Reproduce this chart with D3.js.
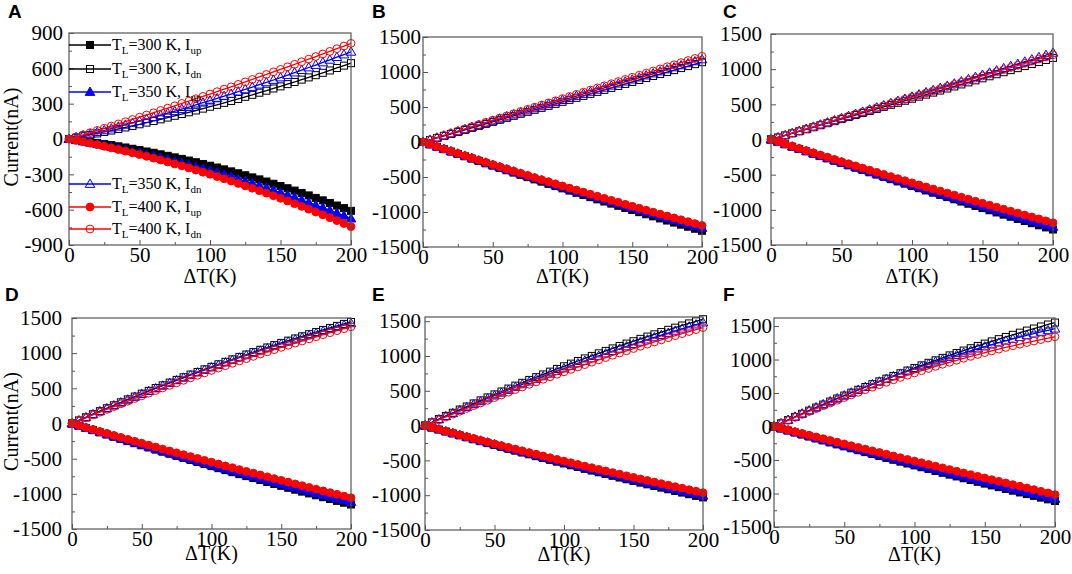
<!DOCTYPE html>
<html><head><meta charset="utf-8">
<script src="https://cdn.jsdelivr.net/npm/d3@7"></script>
<style>body{margin:0;background:#fff}svg{display:block}</style>
</head><body>
<svg id="chart" width="1072" height="574"></svg>
<script>
// ---------- data ----------
const deltaT = [0,5,10,15,20,25,30,35,40,45,50,55,60,65,70,75,80,85,90,95,100,105,110,115,120,125,130,135,140,145,150,155,160,165,170,175,180,185,190,195,200];

const A_300_up = [0,-8,-16,-24,-33,-42,-52,-62,-72,-83,-94,-106,-117,-130,-143,-156,-169,-183,-197,-212,-227,-242,-258,-275,-291,-308,-326,-343,-361,-380,-399,-418,-438,-458,-479,-500,-521,-543,-565,-587,-610];
const A_300_dn = [0,11,23,35,47,60,72,85,98,111,125,139,153,167,182,197,212,227,242,258,274,290,307,323,340,358,375,393,410,429,447,466,484,504,523,542,562,582,603,623,644];
const A_350_up = [0,-10,-21,-32,-43,-55,-67,-79,-92,-105,-118,-132,-146,-160,-175,-190,-205,-221,-237,-253,-270,-287,-304,-322,-340,-359,-378,-397,-416,-436,-456,-476,-497,-518,-540,-562,-584,-606,-629,-652,-676];
const A_350_dn = [0,14,29,43,58,73,89,104,120,136,152,168,185,202,219,236,254,271,289,308,326,345,363,382,402,421,441,461,481,501,522,543,564,585,607,628,650,672,695,717,740];
const A_400_up = [0,-12,-24,-36,-48,-62,-75,-89,-103,-117,-132,-147,-163,-179,-195,-212,-228,-246,-264,-282,-300,-319,-338,-357,-377,-398,-418,-439,-460,-482,-504,-526,-549,-572,-596,-620,-644,-668,-693,-718,-744];
const A_400_dn = [0,18,36,54,73,91,110,128,147,166,185,204,223,243,262,282,302,322,342,362,382,402,423,443,464,485,506,527,548,570,591,613,634,656,678,700,722,744,767,789,812];

const B_300_up = [0,-34,-69,-103,-137,-171,-204,-238,-272,-305,-338,-371,-404,-437,-469,-502,-534,-566,-598,-630,-662,-694,-725,-756,-788,-819,-850,-880,-911,-942,-972,-1002,-1032,-1062,-1092,-1122,-1151,-1181,-1210,-1239,-1268];
const B_300_dn = [0,29,58,87,115,144,173,202,231,259,288,317,345,374,403,431,460,488,517,545,574,602,631,659,688,716,745,773,801,830,858,886,915,943,971,999,1027,1056,1084,1112,1140];
const B_350_up = [0,-33,-67,-100,-133,-166,-198,-231,-264,-296,-328,-360,-392,-424,-455,-487,-518,-549,-580,-611,-642,-673,-703,-733,-764,-794,-824,-853,-883,-913,-942,-971,-1000,-1029,-1058,-1087,-1115,-1144,-1172,-1200,-1228];
const B_350_dn = [0,30,61,91,121,151,181,211,241,271,301,331,361,391,420,450,480,509,539,568,598,627,657,686,716,745,774,804,833,862,891,920,949,978,1007,1036,1065,1094,1123,1151,1180];
const B_400_up = [0,-33,-66,-98,-131,-163,-195,-227,-259,-291,-322,-353,-384,-415,-446,-477,-508,-538,-568,-598,-628,-658,-687,-717,-746,-775,-804,-833,-861,-890,-918,-946,-974,-1002,-1030,-1057,-1084,-1111,-1138,-1165,-1192];
const B_400_dn = [0,31,63,94,125,157,188,219,250,281,312,343,374,405,436,467,497,528,559,589,620,651,681,712,742,773,803,833,864,894,924,954,984,1014,1044,1075,1104,1134,1164,1194,1224];

const C_300_up = [0,-34,-68,-102,-135,-169,-202,-236,-269,-302,-335,-368,-401,-434,-466,-499,-531,-564,-596,-628,-660,-692,-724,-756,-787,-819,-850,-882,-913,-944,-975,-1006,-1037,-1068,-1098,-1129,-1159,-1190,-1220,-1250,-1280];
const C_300_dn = [0,29,58,87,116,145,174,203,232,261,290,319,348,377,406,435,464,493,522,551,580,609,638,667,696,725,754,783,812,841,870,899,928,957,986,1015,1044,1073,1102,1131,1160];
const C_350_up = [0,-33,-67,-100,-133,-166,-199,-232,-264,-297,-329,-361,-393,-425,-457,-489,-521,-552,-584,-615,-646,-677,-708,-739,-769,-800,-830,-861,-891,-921,-951,-981,-1011,-1040,-1070,-1099,-1128,-1157,-1186,-1215,-1244];
const C_350_dn = [0,30,60,90,120,150,181,211,241,272,302,332,363,393,424,454,485,516,546,577,608,639,670,701,732,762,794,825,856,887,918,949,980,1012,1043,1074,1106,1137,1169,1200,1232];
const C_400_up = [0,-32,-64,-95,-127,-158,-190,-221,-252,-283,-314,-345,-375,-406,-436,-466,-497,-527,-557,-586,-616,-646,-675,-704,-733,-762,-791,-820,-849,-878,-906,-934,-963,-991,-1019,-1046,-1074,-1102,-1129,-1157,-1184];
const C_400_dn = [0,30,60,90,120,151,181,211,241,271,301,331,361,391,421,452,482,512,542,572,602,632,662,692,722,753,783,813,843,873,903,933,963,993,1023,1054,1084,1114,1144,1174,1204];

const D_300_up = [0,-32,-63,-95,-126,-157,-188,-219,-250,-280,-310,-341,-371,-401,-430,-460,-490,-519,-548,-577,-606,-635,-663,-692,-720,-748,-776,-804,-832,-859,-886,-914,-941,-968,-994,-1021,-1048,-1074,-1100,-1126,-1152];
const D_300_dn = [0,44,88,132,175,217,259,301,343,383,424,464,504,543,582,620,658,696,733,770,806,842,877,912,947,981,1015,1048,1081,1114,1146,1178,1209,1240,1270,1300,1330,1359,1388,1416,1444];
const D_350_up = [0,-31,-62,-93,-123,-153,-184,-214,-244,-273,-303,-332,-362,-391,-420,-448,-477,-506,-534,-562,-590,-618,-645,-673,-700,-728,-755,-781,-808,-835,-861,-887,-913,-939,-965,-990,-1016,-1041,-1066,-1091,-1116];
const D_350_dn = [0,44,87,130,173,215,256,298,339,379,419,459,498,537,575,613,650,687,724,760,796,831,866,901,935,969,1002,1035,1067,1099,1131,1162,1193,1223,1253,1283,1312,1341,1369,1397,1424];
const D_400_up = [0,-29,-57,-85,-114,-142,-170,-198,-225,-253,-280,-308,-335,-363,-390,-417,-444,-470,-497,-524,-550,-576,-603,-629,-655,-681,-706,-732,-758,-783,-808,-834,-859,-884,-909,-934,-958,-983,-1007,-1032,-1056];
const D_400_dn = [0,41,81,122,161,201,240,279,317,356,394,431,468,505,542,578,614,649,685,719,754,788,822,856,889,922,954,987,1019,1050,1082,1112,1143,1173,1203,1233,1262,1291,1320,1348,1376];

const E_300_up = [0,-29,-57,-85,-113,-141,-169,-197,-224,-252,-279,-306,-333,-360,-387,-413,-440,-466,-492,-518,-544,-570,-595,-621,-646,-671,-696,-721,-746,-771,-795,-819,-844,-868,-891,-915,-939,-962,-986,-1009,-1032];
const E_300_dn = [0,47,93,139,184,230,274,318,362,405,448,490,532,574,615,656,696,735,775,814,852,890,928,965,1001,1038,1073,1109,1144,1178,1212,1246,1279,1311,1344,1376,1407,1438,1468,1498,1528];
const E_350_up = [0,-28,-55,-83,-110,-137,-164,-191,-218,-245,-272,-298,-324,-350,-376,-402,-428,-454,-479,-505,-530,-555,-580,-605,-630,-654,-679,-703,-727,-752,-776,-799,-823,-847,-870,-893,-917,-940,-963,-985,-1008];
const E_350_dn = [0,45,89,133,177,220,263,305,347,389,430,471,511,551,591,630,669,707,745,783,820,857,893,929,965,1000,1035,1069,1103,1137,1170,1203,1235,1267,1299,1330,1361,1391,1421,1451,1480];
const E_400_up = [0,-27,-54,-80,-106,-133,-159,-185,-211,-236,-262,-287,-313,-338,-363,-388,-412,-437,-462,-486,-510,-534,-558,-582,-605,-629,-652,-675,-698,-721,-744,-767,-789,-811,-834,-856,-878,-899,-921,-943,-964];
const E_400_dn = [0,42,83,124,165,206,246,286,325,364,403,441,480,517,555,592,628,665,701,737,772,807,842,876,910,944,977,1010,1043,1075,1107,1139,1170,1201,1231,1262,1292,1321,1351,1379,1408];

const F_300_up = [0,-30,-60,-90,-120,-150,-179,-208,-238,-267,-296,-325,-354,-382,-411,-440,-468,-496,-524,-552,-580,-608,-635,-663,-690,-718,-745,-772,-799,-825,-852,-879,-905,-931,-957,-984,-1009,-1035,-1061,-1087,-1112];
const F_300_dn = [0,48,96,144,190,237,283,328,373,418,462,505,548,590,632,674,715,755,795,835,874,913,951,988,1025,1062,1098,1134,1169,1203,1238,1271,1304,1337,1369,1401,1432,1463,1493,1523,1552];
const F_350_up = [0,-29,-58,-87,-115,-144,-172,-201,-229,-257,-285,-313,-341,-369,-396,-424,-451,-479,-506,-533,-560,-587,-614,-641,-667,-694,-720,-747,-773,-799,-825,-851,-877,-903,-928,-954,-979,-1005,-1030,-1055,-1080];
const F_350_dn = [0,49,98,146,193,239,285,331,375,419,463,505,547,589,629,669,709,748,786,823,860,896,932,967,1001,1034,1067,1100,1131,1162,1193,1222,1251,1280,1307,1334,1361,1387,1412,1436,1460];
const F_400_up = [0,-26,-52,-78,-104,-130,-156,-182,-208,-234,-260,-286,-312,-337,-363,-388,-414,-440,-465,-491,-516,-541,-567,-592,-617,-642,-668,-693,-718,-743,-768,-793,-818,-843,-868,-892,-917,-942,-967,-991,-1016];
const F_400_dn = [0,46,92,137,181,224,267,310,351,392,433,472,511,550,587,624,661,697,732,766,800,833,866,898,929,959,989,1019,1047,1075,1103,1129,1155,1181,1205,1229,1253,1276,1298,1319,1340];

const panelLetters = ["A","B","C","D","E","F"];
const legendTemps = ["300","300","350","350","400","400"];
const legendSubs = ["up","dn","up","dn","up","dn"];
const xTicks = [0,50,100,150,200];
const xMinorTicks = [25,75,125,175];
const yTicksA = [-900,-600,-300,0,300,600,900];
const yMinorA = [-750,-450,-150,150,450,750];
const yTicksB = [-1500,-1000,-500,0,500,1000,1500];
const yMinorB = [-1250,-750,-250,250,750,1250];
const yDomains = [[-900,900],[-1500,1500],[-1500,1500],[-1500,1500],[-1500,1560],[-1500,1620]];
const xLabel = "ΔT(K)";
const yLabel = "Current(nA)";

// ---------- styling / layout ----------
const panelSeries = [
  [A_300_up,A_300_dn,A_350_up,A_350_dn,A_400_up,A_400_dn],
  [B_300_up,B_300_dn,B_350_up,B_350_dn,B_400_up,B_400_dn],
  [C_300_up,C_300_dn,C_350_up,C_350_dn,C_400_up,C_400_dn],
  [D_300_up,D_300_dn,D_350_up,D_350_dn,D_400_up,D_400_dn],
  [E_300_up,E_300_dn,E_350_up,E_350_dn,E_400_up,E_400_dn],
  [F_300_up,F_300_dn,F_350_up,F_350_dn,F_400_up,F_400_dn]
];
const colors = ["#000000","#000000","#0000ff","#0000ff","#ff0000","#ff0000"];
const shapes = ["square","square","triangle","triangle","circle","circle"];
const filled = [true,false,true,false,true,false];

const frames = [
  {l:69, r:351, t:33, b:245, gap:6,  lx:8,   ly:18,  title:283, ytitle:true},
  {l:423,r:702, t:37, b:247, gap:2,  lx:372, ly:18,  title:283},
  {l:771,r:1053,t:34, b:245, gap:9,  lx:723, ly:18,  title:283},
  {l:72, r:351, t:318,b:529, gap:10, lx:5,   ly:301, title:560, ytitle:true},
  {l:425,r:703, t:317,b:530, gap:4,  lx:372, ly:301, title:561},
  {l:774,r:1055,t:318,b:527, gap:2,  lx:723, ly:301, title:561}
];

const serif = "'Liberation Serif','Times New Roman',serif";
const svg = d3.select("#chart");
svg.append("rect").attr("width",1072).attr("height",574).attr("fill","#fff");

function marker(sel, shape, cx, cy, color, fill) {
  let m;
  if (shape === "square") {
    m = sel.append("rect").attr("x",cx-3.5).attr("y",cy-3.5).attr("width",7).attr("height",7);
  } else if (shape === "triangle") {
    m = sel.append("path").attr("d", d3.symbol().type(d3.symbolTriangle).size(40)())
      .attr("transform",`translate(${cx},${cy+0.6})`);
  } else {
    m = sel.append("circle").attr("cx",cx).attr("cy",cy).attr("r",3.9);
  }
  m.attr("fill", fill ? color : "none").attr("stroke", color).attr("stroke-width", 1);
}

frames.forEach((f, i) => {
  const g = svg.append("g");
  const x = d3.scaleLinear().domain([0,200]).range([f.l, f.r]);
  const y = d3.scaleLinear().domain(yDomains[i]).range([f.b, f.t]);
  const yt = i === 0 ? yTicksA : yTicksB;
  const ym = i === 0 ? yMinorA : yMinorB;

  // series
  panelSeries[i].forEach((vals, s) => {
    const line = d3.line().x((d,k) => x(deltaT[k])).y(d => y(d));
    g.append("path").attr("d", line(vals)).attr("fill","none")
      .attr("stroke", colors[s]).attr("stroke-width", 1.3);
    const mg = g.append("g");
    vals.forEach((v,k) => marker(mg, shapes[s], x(deltaT[k]), y(v), colors[s], filled[s]));
  });

  // frame
  g.append("rect").attr("x",f.l).attr("y",f.t).attr("width",f.r-f.l).attr("height",f.b-f.t)
    .attr("fill","none").attr("stroke","#555").attr("stroke-width",1.2);

  // axes
  const styleAxis = a => {
    a.select(".domain").remove();
    a.selectAll(".tick line").attr("stroke","#555").attr("stroke-width",1);
    a.selectAll(".tick text").attr("font-family",serif).attr("font-size",21).attr("fill","#000");
  };
  g.append("g").attr("transform",`translate(0,${f.b})`)
    .call(d3.axisBottom(x).tickValues(xMinorTicks).tickSize(-3).tickFormat(""))
    .call(styleAxis);
  g.append("g").attr("transform",`translate(0,${f.b})`)
    .call(d3.axisBottom(x).tickValues(xTicks).tickSize(-5).tickPadding(2).tickFormat(d => String(d)))
    .call(styleAxis);
  g.append("g").attr("transform",`translate(${f.l},0)`)
    .call(d3.axisLeft(y).tickValues(ym).tickSize(-3).tickFormat(""))
    .call(styleAxis);
  g.append("g").attr("transform",`translate(${f.l},0)`)
    .call(d3.axisLeft(y).tickValues(yt).tickSize(-5).tickPadding(f.gap).tickFormat(d => String(d)))
    .call(styleAxis);

  // titles
  g.append("text").attr("x",(f.l+f.r)/2).attr("y",f.title).attr("text-anchor","middle")
    .attr("font-family",serif).attr("font-size",20).text(xLabel);
  if (f.ytitle) {
    g.append("text").attr("transform",`translate(18,${(f.t+f.b)/2 - 2}) rotate(-90)`)
      .attr("text-anchor","middle").attr("font-family",serif).attr("font-size",20).text(yLabel);
  }
  g.append("text").attr("x",f.lx).attr("y",f.ly).attr("font-family","'Liberation Sans',Arial,sans-serif")
    .attr("font-weight","bold").attr("font-size",19).text(panelLetters[i]);

  // legend in panel A
  if (i === 0) {
    const ly = [45,69,92,184,207,229];
    ly.forEach((yy, s) => {
      const lg = g.append("g");
      lg.append("line").attr("x1",f.l).attr("x2",f.l+42).attr("y1",yy).attr("y2",yy)
        .attr("stroke",colors[s]).attr("stroke-width",1.3);
      marker(lg, shapes[s], f.l+21, yy, colors[s], filled[s]);
      const t = lg.append("text").attr("x",f.l+43).attr("y",yy+5)
        .attr("font-family",serif).attr("font-size",16).attr("fill","#000");
      t.append("tspan").text("T");
      t.append("tspan").attr("dy",4).attr("font-size",11).text("L");
      t.append("tspan").attr("dy",-4).text(`=${legendTemps[s]} K, I`);
      t.append("tspan").attr("dy",4).attr("font-size",11).text(legendSubs[s]);
    });
  }
});
</script>
</body></html>
